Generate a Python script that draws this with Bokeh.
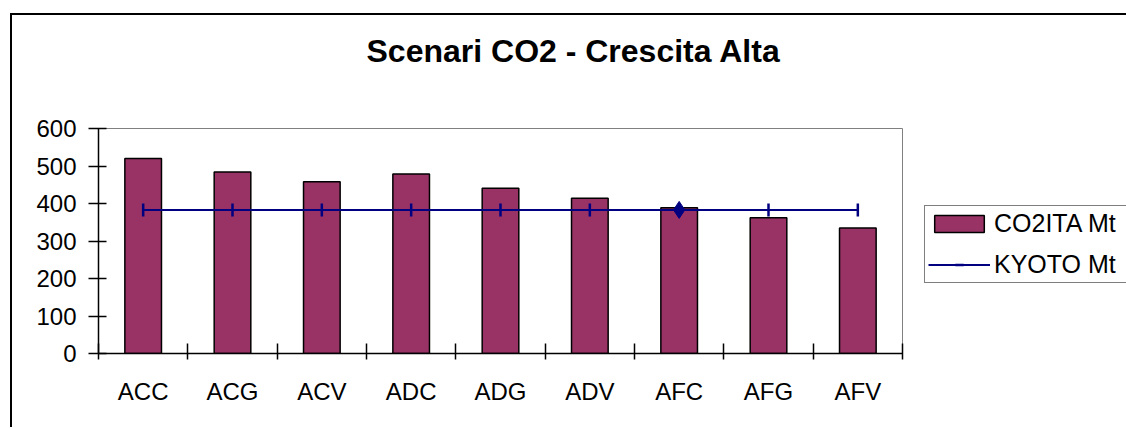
from bokeh.plotting import figure
from bokeh.models import (Range1d, FixedTicker, Legend, LegendItem, ColumnDataSource, Title)
from bokeh.embed import file_html
from bokeh.resources import INLINE
import math

categories = ["ACC", "ACG", "ACV", "ADC", "ADG", "ADV", "AFC", "AFG", "AFV"]
co2ita_mt = [520, 484, 458, 479, 441, 414, 389, 362, 335]
kyoto_mt = [383, 383, 383, 383, 383, 383, 383, 383, 383]
y_ticks = [0, 100, 200, 300, 400, 500, 600]
highlight_index = 6

FONT = "Liberation Sans"
BAR_COLOR = "#993366"
LINE_COLOR = "#000080"

centers = [i + 0.5 for i in range(len(categories))]
bounds = [float(i) for i in range(len(categories) + 1)]

src = ColumnDataSource(dict(x=centers, co2=co2ita_mt, kyoto=kyoto_mt, cat=categories))

p = figure(frame_width=804, frame_height=225,
           min_border_left=86, min_border_right=224, min_border_top=113, min_border_bottom=76,
           x_range=Range1d(0, len(categories)), y_range=Range1d(0, 600),
           output_backend="svg", toolbar_location=None, tools="")
p.styles = {"margin-left": "12px", "margin-top": "15px",
            "box-shadow": "-2px -2px 0px 0px #000000"}

# spacer between the title and the plot area (added first: nearest the frame)
spacer = Title(text=" ", text_font_size="1px", standoff=55)
p.add_layout(spacer, "above")
main_title = Title(text="Scenari CO2 - Crescita Alta", align="left", offset=268,
                   vertical_align="top", standoff=0, text_font=FONT,
                   text_font_size="32px", text_font_style="bold", text_color="black")
p.add_layout(main_title, "above")

p.background_fill_color = "white"
p.border_fill_color = "white"
p.outline_line_color = "#808080"
p.outline_line_width = 1
p.xgrid.visible = False
p.ygrid.visible = False

bars = p.vbar(x="x", top="co2", width=0.41, bottom=0, source=src,
              fill_color=BAR_COLOR, line_color="black", line_width=1.5)
kline = p.line(x="x", y="kyoto", source=src, line_color=LINE_COLOR, line_width=2)
kmark = p.scatter(x="x", y="kyoto", source=src, marker="dash", angle=math.pi / 2,
                  size=13, line_color=LINE_COLOR, line_width=2.5)
p.scatter(x=[centers[highlight_index]], y=[kyoto_mt[highlight_index]], marker="diamond",
          size=17, fill_color=LINE_COLOR, line_color=LINE_COLOR)

# x axis: labels at centres, ticks at category boundaries
xa = p.xaxis[0]
xa.ticker = FixedTicker(ticks=centers, minor_ticks=bounds)
xa.major_label_overrides = {c: lab for c, lab in zip(centers, categories)}
xa.major_tick_line_color = None
xa.major_tick_in = 0
xa.major_tick_out = 6
xa.minor_tick_in = 10
xa.minor_tick_out = 6
xa.minor_tick_line_color = "black"
xa.minor_tick_line_width = 1.5
xa.axis_line_color = "black"
xa.axis_line_width = 1.5
xa.major_label_text_font = FONT
xa.major_label_text_font_size = "24px"
xa.major_label_text_color = "black"
xa.major_label_standoff = 18

ya = p.yaxis[0]
ya.ticker = FixedTicker(ticks=y_ticks, minor_ticks=[])
ya.major_tick_in = 8
ya.major_tick_out = 10
ya.major_tick_line_color = "black"
ya.major_tick_line_width = 1.5
ya.minor_tick_line_color = None
ya.axis_line_color = "black"
ya.axis_line_width = 1.5
ya.major_label_text_font = FONT
ya.major_label_text_font_size = "24px"
ya.major_label_text_color = "black"
ya.major_label_standoff = 12

legend = Legend(items=[LegendItem(label="CO2ITA Mt", renderers=[bars]),
                       LegendItem(label="KYOTO Mt", renderers=[kline, kmark])],
                location=(22, 70), orientation="vertical",
                label_text_font=FONT, label_text_font_size="25px", label_text_color="black",
                glyph_width=62, glyph_height=21, label_standoff=4, label_width=140,
                padding=3, spacing=12, margin=0,
                border_line_color="black", border_line_width=1.5,
                background_fill_color="white", background_fill_alpha=1.0)
p.add_layout(legend, "right")

open("out.html", "w").write(file_html(p, INLINE))
